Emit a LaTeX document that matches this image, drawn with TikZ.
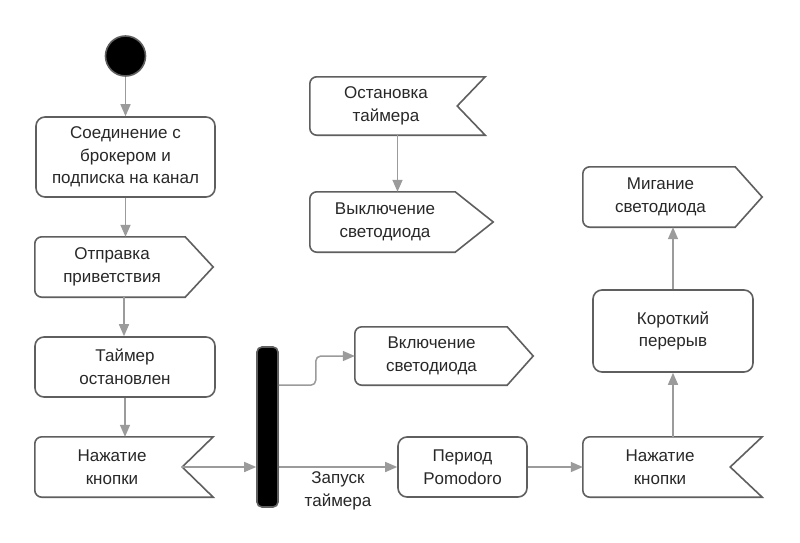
\documentclass[tikz,border=0pt]{standalone}
\usepackage{fontspec}
\setmainfont{Liberation Sans}
\usetikzlibrary{arrows.meta,calc}
\definecolor{bord}{RGB}{95,95,95}
\definecolor{arr}{RGB}{155,155,155}
\definecolor{txtc}{RGB}{40,40,40}
\newcommand\sendpath[2]{\draw[outline] (#1.east) -- ($(#1.south east)+(-#2,0)$) [rounded corners=7pt] -- (#1.south west) -- (#1.north west) [sharp corners] -- ($(#1.north east)+(-#2,0)$) -- cycle;}
\newcommand\acceptpath[2]{\draw[outline] ($(#1.east)+(-#2,0)$) -- (#1.south east) [rounded corners=7pt] -- (#1.south west) -- (#1.north west) [sharp corners] -- (#1.north east) -- cycle;}
\begin{document}
\begin{tikzpicture}[x=1pt,y=-1pt,
 box/.style={draw=bord, line width=1.6pt, rounded corners=9pt, inner sep=0pt, align=center, text=txtc, font=\fontsize{17}{22.5}\selectfont},
 frame/.style={inner sep=0pt, draw=none},
 outline/.style={draw=bord, line width=1.6pt},
 txt/.style={inner sep=0pt, align=center, text=txtc, font=\fontsize{17}{22.5}\selectfont},
 conn/.style={draw=arr, line width=1.5pt, -{Triangle[length=12pt,width=10pt]}},
]
\fill[white] (0,0) rectangle (800,543);
\useasboundingbox (0,0) rectangle (800,543);

% start
\node[circle, fill=black, draw=bord, line width=1.6pt, minimum size=40pt, inner sep=0pt] (start) at (125.5,56) {};

% left column
\node[box, minimum width=179pt, minimum height=80pt] (n1) at (125.5,157) {Соединение с\\брокером и\\подписка на канал};

\node[frame, minimum width=178pt, minimum height=60pt] (n2) at (124,267) {};
\sendpath{n2}{28}
\node[txt] (n2t) at (112,267) {Отправка\\приветствия};

\node[box, minimum width=180pt, minimum height=60pt] (n3) at (125,367) {Таймер\\остановлен};

\node[frame, minimum width=178pt, minimum height=60pt] (n4) at (124,467) {};
\acceptpath{n4}{31}
\node[txt] (n4t) at (112,467) {Нажатие\\кнопки};
\coordinate (n4notch) at ($(n4.east)+(-31,0)$);

% fork bar
\node[draw=bord, fill=black, line width=1.6pt, rounded corners=5pt, minimum width=21pt, minimum height=160pt, inner sep=0pt] (bar) at (267.5,427) {};

% middle
\node[frame, minimum width=178pt, minimum height=58pt] (vkl) at (444,356) {};
\sendpath{vkl}{26}
\node[txt] (vklt) at (431.5,356) {Включение\\светодиода};

\node[box, minimum width=129pt, minimum height=60pt] (per) at (462.5,467) {Период\\Pomodoro};

\node[txt] (zap) at (338,491) {Запуск\\таймера};

\node[frame, minimum width=175pt, minimum height=58pt] (stop) at (397.5,106) {};
\acceptpath{stop}{28}
\node[txt] (stopt) at (386,106) {Остановка\\таймера};

\node[frame, minimum width=183pt, minimum height=60pt] (off) at (401.5,222) {};
\sendpath{off}{38}
\node[txt] (offt) at (385,222) {Выключение\\светодиода};

% right column
\node[frame, minimum width=179pt, minimum height=60pt] (n4r) at (672.5,467) {};
\acceptpath{n4r}{32}
\node[txt] (n4rt) at (660,467) {Нажатие\\кнопки};

\node[box, minimum width=160pt, minimum height=82pt] (short) at (673,331) {Короткий\\перерыв};

\node[frame, minimum width=179pt, minimum height=60pt] (blink) at (672.5,197) {};
\sendpath{blink}{27}
\node[txt] (blinkt) at (660.5,197) {Мигание\\светодиода};

% connectors
\draw[conn] (start) -- (start |- n1.north);
\draw[conn] (n1.south) -- (n1.south |- n2.north);
\draw[conn] (n2.south) -- (n2.south |- n3.north);
\draw[conn] (n3.south) -- (n3.south |- n4.north);
\draw[conn] (n4notch) -- (n4notch -| bar.west);
\draw[conn] (bar.east |- per.west) -- (per.west);
\draw[conn, rounded corners=5pt] (bar.east |- vkl.south) -- ++(37,0) |- (vkl.west);
\draw[conn] (per.east) -- (per.east -| n4r.west);
\draw[conn] (short.south |- n4r.north) -- (short.south);
\draw[conn] (short.north) -- (short.north |- blink.south);
\draw[conn] (stop.south) -- (stop.south |- off.north);
\end{tikzpicture}
\end{document}
